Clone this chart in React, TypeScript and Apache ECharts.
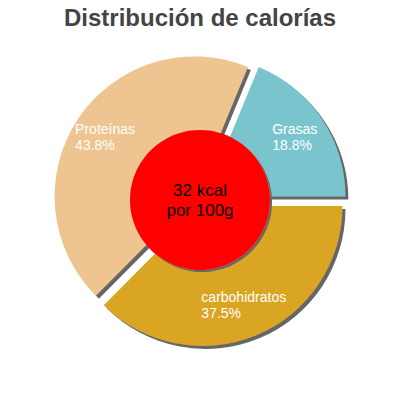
import { useEffect, useRef } from 'react';
import * as echarts from 'echarts';

// reparto de calorías
const categories = ['carbohidratos', 'Proteínas', 'Grasas'];
const percentages = [37.5, 43.8, 18.8];
const colors = ['#DAA520', '#EEC591', '#7AC5CD'];
const centerLines = ['32 kcal', 'por 100g'];

const FONT = 'Liberation Sans, Arial, sans-serif';

const App = () => {
  const chartRef = useRef<HTMLDivElement>(null);

  useEffect(() => {
    if (!chartRef.current) return;
    document.body.style.margin = '0';

    const chart = echarts.init(chartRef.current, undefined, { renderer: 'svg' });

    const shadow = {
      shadowBlur: 0,
      shadowOffsetX: 3,
      shadowOffsetY: 3,
      shadowColor: '#666666'
    };

    const sliceData = categories.map((name, i) => ({
      name,
      value: percentages[i],
      selected: true,
      itemStyle: { color: colors[i], ...shadow },
      select: { itemStyle: { color: colors[i], borderWidth: 0, ...shadow } }
    }));

    const option: echarts.EChartsOption = {
      animation: false,
      title: {
        text: 'Distribución de calorías',
        left: 'center',
        top: 0,
        textStyle: {
          fontFamily: FONT,
          fontSize: 24,
          fontWeight: 'bold',
          color: '#444444'
        }
      },
      series: [
        {
          type: 'pie',
          center: [200, 200],
          radius: [0, 140],
          startAngle: 0,
          clockwise: true,
          selectedMode: 'multiple',
          selectedOffset: 6.5,
          silent: true,
          label: { show: false },
          labelLine: { show: false },
          emphasis: { disabled: true },
          data: sliceData
        },
        {
          // capa solo para las etiquetas
          type: 'pie',
          center: [200, 200],
          radius: [82, 140],
          startAngle: 0,
          clockwise: true,
          silent: true,
          itemStyle: { color: 'rgba(0,0,0,0)' },
          emphasis: { disabled: true },
          labelLine: { show: false },
          label: {
            show: true,
            position: 'inside',
            align: 'center',
            formatter: (p: any) =>
              `{n|${p.name}}\n{n|${(p.value as number).toFixed(1)}%}`,
            rich: {
              n: {
                align: 'left',
                fontFamily: FONT,
                fontSize: 14,
                lineHeight: 16,
                color: '#ffffff'
              }
            }
          },
          data: categories.map((name, i) => ({ name, value: percentages[i] }))
        },
        {
          type: 'pie',
          center: [200, 200],
          radius: [0, 70],
          silent: true,
          emphasis: { disabled: true },
          itemStyle: {
            color: '#ff0000',
            shadowBlur: 0,
            shadowOffsetX: 2,
            shadowOffsetY: 2,
            shadowColor: '#666666'
          },
          labelLine: { show: false },
          label: {
            show: true,
            position: 'center',
            formatter: centerLines.join('\n'),
            fontFamily: FONT,
            fontSize: 17,
            lineHeight: 20,
            color: '#000000'
          },
          data: [{ name: 'kcal', value: 1 }]
        }
      ]
    };

    chart.setOption(option);

    return () => {
      chart.dispose();
    };
  }, []);

  return <div ref={chartRef} style={{ width: '400px', height: '400px' }} />;
};

export default App;
